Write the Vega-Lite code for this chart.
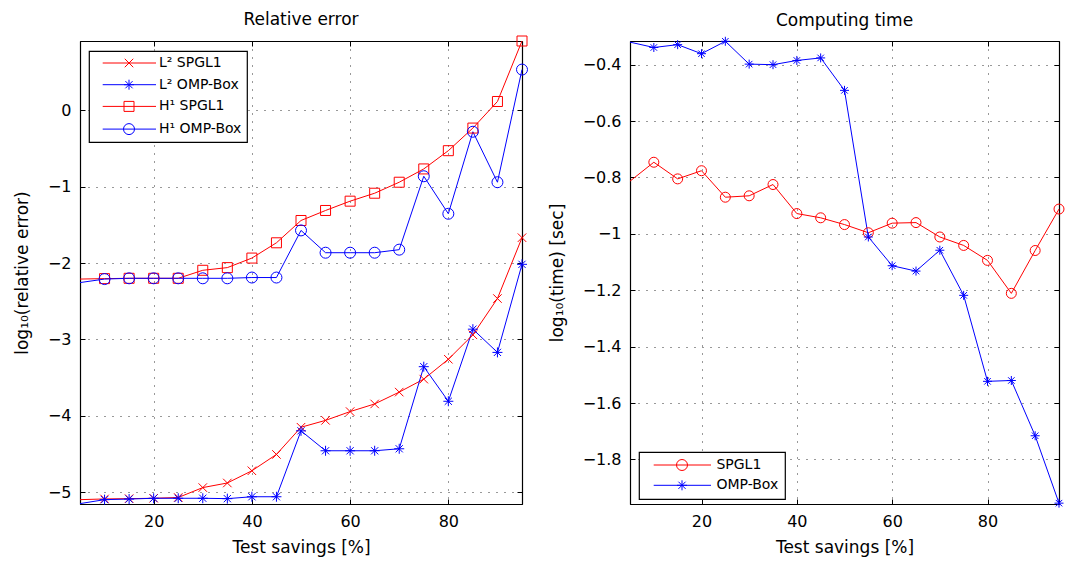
{
  "$schema": "https://vega.github.io/schema/vega-lite/v6.json",
  "padding": {"left": 13, "top": 10, "right": 5, "bottom": 5},
  "background": "white",
  "bounds": "flush",
  "spacing": 108,
  "datasets": {
    "err": [
      {"x":5,"s":"L² SPGL1","v":-5.098},{"x":10,"s":"L² SPGL1","v":-5.089},{"x":15,"s":"L² SPGL1","v":-5.085},{"x":20,"s":"L² SPGL1","v":-5.08},{"x":25,"s":"L² SPGL1","v":-5.07},{"x":30,"s":"L² SPGL1","v":-4.94},{"x":35,"s":"L² SPGL1","v":-4.88},{"x":40,"s":"L² SPGL1","v":-4.72},{"x":45,"s":"L² SPGL1","v":-4.506},{"x":50,"s":"L² SPGL1","v":-4.15},{"x":55,"s":"L² SPGL1","v":-4.06},{"x":60,"s":"L² SPGL1","v":-3.945},{"x":65,"s":"L² SPGL1","v":-3.845},{"x":70,"s":"L² SPGL1","v":-3.69},{"x":75,"s":"L² SPGL1","v":-3.52},{"x":80,"s":"L² SPGL1","v":-3.26},{"x":85,"s":"L² SPGL1","v":-2.94},{"x":90,"s":"L² SPGL1","v":-2.465},{"x":95,"s":"L² SPGL1","v":-1.668},
      {"x":5,"s":"L² OMP-Box","v":-5.15},{"x":10,"s":"L² OMP-Box","v":-5.098},{"x":15,"s":"L² OMP-Box","v":-5.09},{"x":20,"s":"L² OMP-Box","v":-5.08},{"x":25,"s":"L² OMP-Box","v":-5.08},{"x":30,"s":"L² OMP-Box","v":-5.08},{"x":35,"s":"L² OMP-Box","v":-5.085},{"x":40,"s":"L² OMP-Box","v":-5.06},{"x":45,"s":"L² OMP-Box","v":-5.06},{"x":50,"s":"L² OMP-Box","v":-4.197},{"x":55,"s":"L² OMP-Box","v":-4.458},{"x":60,"s":"L² OMP-Box","v":-4.458},{"x":65,"s":"L² OMP-Box","v":-4.458},{"x":70,"s":"L² OMP-Box","v":-4.432},{"x":75,"s":"L² OMP-Box","v":-3.357},{"x":80,"s":"L² OMP-Box","v":-3.81},{"x":85,"s":"L² OMP-Box","v":-2.866},{"x":90,"s":"L² OMP-Box","v":-3.17},{"x":95,"s":"L² OMP-Box","v":-2.017},
      {"x":5,"s":"H¹ SPGL1","v":-2.21},{"x":10,"s":"H¹ SPGL1","v":-2.204},{"x":15,"s":"H¹ SPGL1","v":-2.2},{"x":20,"s":"H¹ SPGL1","v":-2.2},{"x":25,"s":"H¹ SPGL1","v":-2.2},{"x":30,"s":"H¹ SPGL1","v":-2.095},{"x":35,"s":"H¹ SPGL1","v":-2.06},{"x":40,"s":"H¹ SPGL1","v":-1.935},{"x":45,"s":"H¹ SPGL1","v":-1.735},{"x":50,"s":"H¹ SPGL1","v":-1.443},{"x":55,"s":"H¹ SPGL1","v":-1.312},{"x":60,"s":"H¹ SPGL1","v":-1.19},{"x":65,"s":"H¹ SPGL1","v":-1.086},{"x":70,"s":"H¹ SPGL1","v":-0.942},{"x":75,"s":"H¹ SPGL1","v":-0.768},{"x":80,"s":"H¹ SPGL1","v":-0.529},{"x":85,"s":"H¹ SPGL1","v":-0.233},{"x":90,"s":"H¹ SPGL1","v":0.115},{"x":95,"s":"H¹ SPGL1","v":0.907},
      {"x":5,"s":"H¹ OMP-Box","v":-2.256},{"x":10,"s":"H¹ OMP-Box","v":-2.21},{"x":15,"s":"H¹ OMP-Box","v":-2.2},{"x":20,"s":"H¹ OMP-Box","v":-2.2},{"x":25,"s":"H¹ OMP-Box","v":-2.2},{"x":30,"s":"H¹ OMP-Box","v":-2.2},{"x":35,"s":"H¹ OMP-Box","v":-2.2},{"x":40,"s":"H¹ OMP-Box","v":-2.19},{"x":45,"s":"H¹ OMP-Box","v":-2.19},{"x":50,"s":"H¹ OMP-Box","v":-1.573},{"x":55,"s":"H¹ OMP-Box","v":-1.865},{"x":60,"s":"H¹ OMP-Box","v":-1.865},{"x":65,"s":"H¹ OMP-Box","v":-1.865},{"x":70,"s":"H¹ OMP-Box","v":-1.825},{"x":75,"s":"H¹ OMP-Box","v":-0.864},{"x":80,"s":"H¹ OMP-Box","v":-1.355},{"x":85,"s":"H¹ OMP-Box","v":-0.281},{"x":90,"s":"H¹ OMP-Box","v":-0.942},{"x":95,"s":"H¹ OMP-Box","v":0.533}
    ],
    "time": [
      {"x":5,"s":"SPGL1","v":-0.813},{"x":10,"s":"SPGL1","v":-0.746},{"x":15,"s":"SPGL1","v":-0.805},{"x":20,"s":"SPGL1","v":-0.776},{"x":25,"s":"SPGL1","v":-0.87},{"x":30,"s":"SPGL1","v":-0.865},{"x":35,"s":"SPGL1","v":-0.825},{"x":40,"s":"SPGL1","v":-0.928},{"x":45,"s":"SPGL1","v":-0.943},{"x":50,"s":"SPGL1","v":-0.967},{"x":55,"s":"SPGL1","v":-0.996},{"x":60,"s":"SPGL1","v":-0.962},{"x":65,"s":"SPGL1","v":-0.96},{"x":70,"s":"SPGL1","v":-1.011},{"x":75,"s":"SPGL1","v":-1.041},{"x":80,"s":"SPGL1","v":-1.094},{"x":85,"s":"SPGL1","v":-1.211},{"x":90,"s":"SPGL1","v":-1.059},{"x":95,"s":"SPGL1","v":-0.912},
      {"x":5,"s":"OMP-Box","v":-0.32},{"x":10,"s":"OMP-Box","v":-0.339},{"x":15,"s":"OMP-Box","v":-0.329},{"x":20,"s":"OMP-Box","v":-0.361},{"x":25,"s":"OMP-Box","v":-0.317},{"x":30,"s":"OMP-Box","v":-0.398},{"x":35,"s":"OMP-Box","v":-0.4},{"x":40,"s":"OMP-Box","v":-0.385},{"x":45,"s":"OMP-Box","v":-0.376},{"x":50,"s":"OMP-Box","v":-0.491},{"x":55,"s":"OMP-Box","v":-1.011},{"x":60,"s":"OMP-Box","v":-1.113},{"x":65,"s":"OMP-Box","v":-1.132},{"x":70,"s":"OMP-Box","v":-1.058},{"x":75,"s":"OMP-Box","v":-1.218},{"x":80,"s":"OMP-Box","v":-1.523},{"x":85,"s":"OMP-Box","v":-1.52},{"x":90,"s":"OMP-Box","v":-1.716},{"x":95,"s":"OMP-Box","v":-1.955}
    ]
  },
  "resolve": {
    "scale": {"x": "independent", "y": "independent", "color": "independent", "shape": "independent"},
    "legend": {"color": "independent", "shape": "independent"}
  },
  "hconcat": [
    {
      "width": 442,
      "height": 463,
      "title": {"text": "Relative error"},
      "data": {"name": "err"},
      "layer": [
        {
          "mark": {"type": "line", "strokeWidth": 1},
          "encoding": {
            "x": {"field": "x", "type": "quantitative",
              "scale": {"domain": [5, 95], "nice": false, "zero": false},
              "axis": {"orient": "bottom", "values": [20, 40, 60, 80], "grid": true, "title": "Test savings [%]"}},
            "y": {"field": "v", "type": "quantitative",
              "scale": {"domain": [-5.155, 0.907], "nice": false, "zero": false},
              "axis": {"orient": "left", "values": [-5, -4, -3, -2, -1, 0], "grid": true, "format": "~f", "title": "log₁₀(relative error)"}},
            "color": {"field": "s", "type": "nominal",
              "scale": {"domain": ["L² SPGL1", "L² OMP-Box", "H¹ SPGL1", "H¹ OMP-Box"], "range": ["#ff0000", "#0000ff", "#ff0000", "#0000ff"]},
              "legend": {
                "orient": "none", "legendX": 9, "legendY": 10, "title": null,
                "padding": 5, "rowPadding": 7.7, "labelOffset": 51,
                "encode": {"symbols": {"update": {
                  "shape": {"signal": "['M0.34,0H11M4.75,-0.85L6.45,0.85M4.75,0.85L6.45,-0.85', 'M0.34,0H11M4.6,0H6.6M5.6,-1V1M4.88,-0.72L6.32,0.72M4.88,0.72L6.32,-0.72', 'M0.34,0H11M4.6,-1H6.6V1H4.6Z', 'M0.34,0H11M6.7,0C6.7,0.6075,6.2075,1.1,5.6,1.1C4.9925,1.1,4.5,0.6075,4.5,0C4.5,-0.6075,4.9925,-1.1,5.6,-1.1C6.2075,-1.1,6.7,-0.6075,6.7,0Z'][indexof(['L² SPGL1', 'L² OMP-Box', 'H¹ SPGL1', 'H¹ OMP-Box'], datum.value)]"},
                  "fill": {"value": "transparent"}
                }}}
              }}
          }
        },
        {
          "transform": [{"filter": "datum.x >= 10"}],
          "mark": {"type": "point", "filled": false, "strokeWidth": 1, "size": 100, "opacity": 1},
          "encoding": {
            "x": {"field": "x", "type": "quantitative",
              "axis": {"orient": "top", "values": [20, 40, 60, 80], "labels": false, "grid": false, "title": null}},
            "y": {"field": "v", "type": "quantitative",
              "axis": {"orient": "right", "values": [-5, -4, -3, -2, -1, 0], "labels": false, "grid": false, "title": null}},
            "color": {"field": "s", "type": "nominal", "legend": null},
            "shape": {"field": "s", "type": "nominal", "legend": null,
              "scale": {"domain": ["H¹ OMP-Box", "H¹ SPGL1", "L² OMP-Box", "L² SPGL1"],
                "range": ["M1.1,0C1.1,0.6075,0.6075,1.1,0,1.1C-0.6075,1.1,-1.1,0.6075,-1.1,0C-1.1,-0.6075,-0.6075,-1.1,0,-1.1C0.6075,-1.1,1.1,-0.6075,1.1,0Z", "M-1,-1H1V1H-1Z", "M-1,0H1M0,-1V1M-0.72,-0.72L0.72,0.72M-0.72,0.72L0.72,-0.72", "M-0.85,-0.85L0.85,0.85M-0.85,0.85L0.85,-0.85"]}}
          }
        }
      ]
    },
    {
      "width": 429,
      "height": 463,
      "title": {"text": "Computing time"},
      "data": {"name": "time"},
      "layer": [
        {
          "mark": {"type": "line", "strokeWidth": 1},
          "encoding": {
            "x": {"field": "x", "type": "quantitative",
              "scale": {"domain": [5, 95], "nice": false, "zero": false},
              "axis": {"orient": "bottom", "values": [20, 40, 60, 80], "grid": true, "title": "Test savings [%]"}},
            "y": {"field": "v", "type": "quantitative",
              "scale": {"domain": [-1.958, -0.316], "nice": false, "zero": false},
              "axis": {"orient": "left", "values": [-1.8, -1.6, -1.4, -1.2, -1, -0.8, -0.6, -0.4], "grid": true, "format": "~f", "title": "log₁₀(time) [sec]"}},
            "color": {"field": "s", "type": "nominal",
              "scale": {"domain": ["SPGL1", "OMP-Box"], "range": ["#ff0000", "#0000ff"]},
              "legend": {
                "orient": "none", "legendX": 9, "legendY": 411, "title": null,
                "padding": 6, "rowPadding": 5.3, "labelOffset": 57.4,
                "encode": {"symbols": {"update": {
                  "shape": {"signal": "['M0.34,0H11.8M7.1,0C7.1,0.6075,6.6075,1.1,6,1.1C5.3925,1.1,4.9,0.6075,4.9,0C4.9,-0.6075,5.3925,-1.1,6,-1.1C6.6075,-1.1,7.1,-0.6075,7.1,0Z', 'M0.34,0H11.8M5,0H7M6,-1V1M5.28,-0.72L6.72,0.72M5.28,0.72L6.72,-0.72'][indexof(['SPGL1', 'OMP-Box'], datum.value)]"},
                  "fill": {"value": "transparent"}
                }}}
              }}
          }
        },
        {
          "transform": [{"filter": "datum.x >= 10"}],
          "mark": {"type": "point", "filled": false, "strokeWidth": 1, "size": 100, "opacity": 1},
          "encoding": {
            "x": {"field": "x", "type": "quantitative",
              "axis": {"orient": "top", "values": [20, 40, 60, 80], "labels": false, "grid": false, "title": null}},
            "y": {"field": "v", "type": "quantitative",
              "axis": {"orient": "right", "values": [-1.8, -1.6, -1.4, -1.2, -1, -0.8, -0.6, -0.4], "labels": false, "grid": false, "title": null}},
            "color": {"field": "s", "type": "nominal", "legend": null},
            "shape": {"field": "s", "type": "nominal", "legend": null,
              "scale": {"domain": ["OMP-Box", "SPGL1"],
                "range": ["M-0.9,0H0.9M0,-0.9V0.9M-0.65,-0.65L0.65,0.65M-0.65,0.65L0.65,-0.65", "M1,0C1,0.5523,0.5523,1,0,1C-0.5523,1,-1,0.5523,-1,0C-1,-0.5523,-0.5523,-1,0,-1C0.5523,-1,1,-0.5523,1,0Z"]}}
          }
        }
      ]
    }
  ],
  "config": {
    "font": "DejaVu Sans",
    "view": {"stroke": "black", "strokeWidth": 1},
    "axis": {
      "domainColor": "black", "domainWidth": 1.2,
      "tickColor": "black", "tickSize": -5, "tickWidth": 1,
      "labelFontSize": 16, "labelColor": "black", "labelPadding": 14,
      "titleFontSize": 17, "titleFontWeight": "normal", "titleColor": "black",
      "gridColor": "#333333", "gridDash": [1, 7], "gridWidth": 1, "gridOpacity": 1
    },
    "axisX": {"titlePadding": 10},
    "axisY": {"titlePadding": 15.5},
    "legend": {
      "symbolSize": 100, "symbolStrokeWidth": 1,
      "labelFontSize": 14, "labelColor": "black", "labelLimit": 300,
      "fillColor": "white", "strokeColor": "black", "strokeWidth": 1.2, "cornerRadius": 0
    },
    "title": {"fontSize": 17, "fontWeight": "normal", "color": "black", "offset": 5, "baseline": "alphabetic"}
  }
}
